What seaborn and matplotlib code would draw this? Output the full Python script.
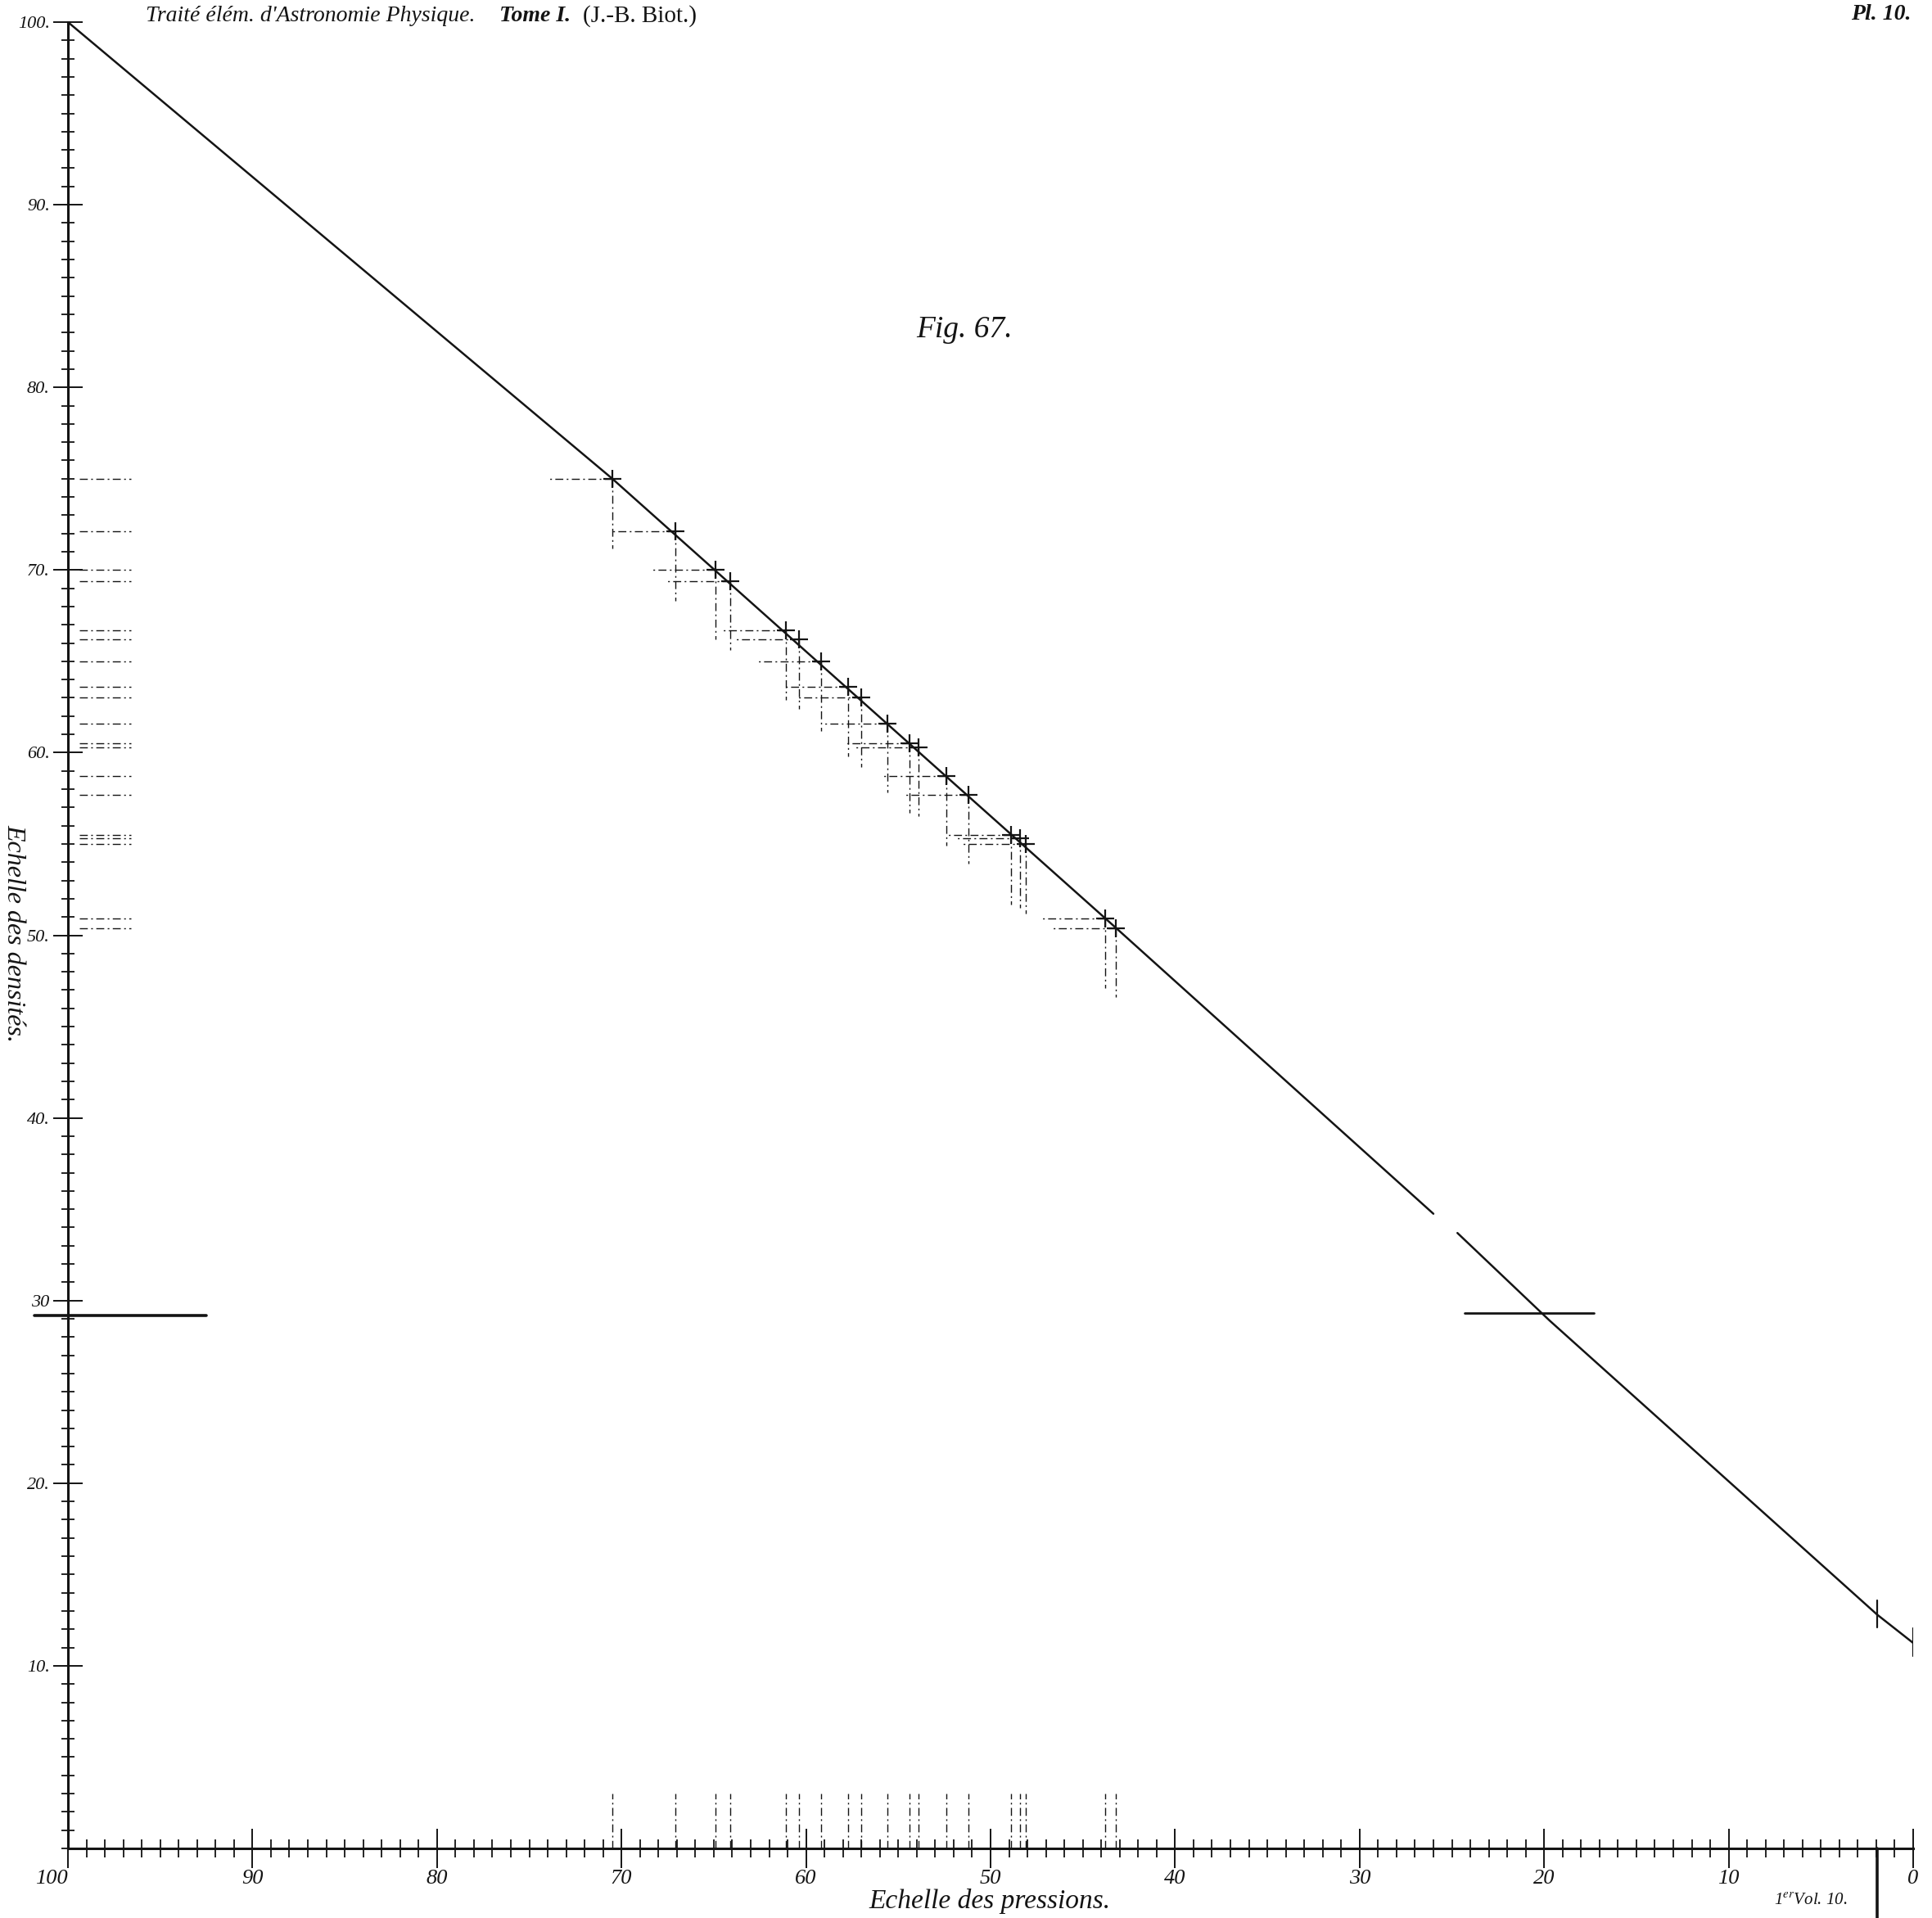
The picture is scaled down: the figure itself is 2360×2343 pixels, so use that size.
import matplotlib
matplotlib.use('Agg')
import matplotlib.pyplot as plt
from matplotlib.ticker import MultipleLocator
import seaborn as sns

pressions = [70.5, 67.1, 64.9, 64.1, 61.1, 60.4, 59.2, 57.7, 57.0, 55.6,
             54.4, 53.9, 52.4, 51.2, 48.9, 48.4, 48.1, 43.8, 43.2]
densites = [75.0, 72.1, 70.0, 69.4, 66.7, 66.2, 65.0, 63.6, 63.0, 61.6,
            60.5, 60.3, 58.7, 57.7, 55.5, 55.3, 55.0, 50.9, 50.4]

# la droite, interrompue vers 25
ligne_haut_p = [100, 70.5, 43.2, 26.0]
ligne_haut_d = [100, 75.0, 50.4, 34.75]
ligne_bas_p = [24.7, 19.7, 1.95, 0]
ligne_bas_d = [33.7, 28.9, 12.8, 11.25]

# repere vers 30 et les deux points a droite
repere_d = 29.2
repere_p = 19.7
fin_p = [1.95, 0]
fin_d = [12.8, 11.25]

y_ticks = [10, 20, 30, 40, 50, 60, 70, 80, 90, 100]
y_labels = ['10.', '20.', '30', '40.', '50.', '60.', '70.', '80.', '90.', '100.']
x_ticks = [100, 90, 80, 70, 60, 50, 40, 30, 20, 10, 0]
x_labels = ['100', '90', '80', '70', '60', '50', '40', '30', '20', '10', '0']

sns.set_style('white')
plt.rcParams['font.family'] = ['Liberation Serif', 'DejaVu Serif']
plt.rcParams['mathtext.fontset'] = 'stix'
ink = '#141414'

W, H = 2360, 2343
fig = plt.figure(figsize=(W / 100, H / 100), dpi=100)
ax = fig.add_axes([83 / W, 1 - 2258 / H, (2337 - 83) / W, (2258 - 27) / H])

# guides pointilles pres des points et pres des axes
guide = dict(color=ink, lw=1.0, ls=(0, (7, 3, 1.5, 3)))
for p, d in zip(pressions, densites):
    ax.plot([p, p + 3.5], [d, d], **guide)
    ax.plot([p, p], [d, d - 3.8], **guide)
    ax.plot([99.4, 96.6], [d, d], **guide)
    ax.plot([p, p], [0, 3.0], **guide)

sns.lineplot(x=ligne_haut_p, y=ligne_haut_d, sort=False, estimator=None,
             color=ink, lw=1.8, ax=ax)
sns.lineplot(x=ligne_bas_p, y=ligne_bas_d, sort=False, estimator=None,
             color=ink, lw=1.8, ax=ax)
sns.scatterplot(x=pressions, y=densites, marker='+', s=260, linewidth=1.6,
                color=ink, ax=ax, zorder=5)

# traits epais du repere
ax.plot([101.8, 92.5], [repere_d, repere_d], color=ink, lw=2.6, clip_on=False)
ax.plot([repere_p + 4.6, repere_p - 2.4], [repere_d + 0.1, repere_d + 0.1], color=ink, lw=2.0)
for p, d in zip(fin_p, fin_d):
    ax.plot([p, p], [d - 0.7, d + 0.8], color=ink, lw=1.6)
ax.plot([fin_p[0], fin_p[0]], [0, -4.6], color=ink, lw=2.6, clip_on=False)

ax.set_xlim(100, 0)
ax.set_ylim(0, 100)
ax.set_xticks(x_ticks)
ax.set_xticklabels(x_labels, fontsize=19, style='italic')
ax.set_yticks(y_ticks)
ax.set_yticklabels(y_labels, fontsize=16, style='italic')
ax.xaxis.set_minor_locator(MultipleLocator(1))
ax.yaxis.set_minor_locator(MultipleLocator(1))
ax.tick_params(which='both', bottom=True, left=True, top=False, right=False)
ax.tick_params(which='major', direction='inout', length=26, width=1.4, color=ink, labelcolor=ink)
ax.tick_params(which='minor', direction='inout', length=11, width=1.3, color=ink)
ax.tick_params(axis='x', which='major', length=34, pad=2)
ax.tick_params(axis='x', which='minor', length=16)
ax.tick_params(axis='y', which='major', pad=3)
ax.xaxis.get_majorticklabels()[0].set_ha('right')
for s in ['top', 'right']:
    ax.spines[s].set_visible(False)
for s in ['left', 'bottom']:
    ax.spines[s].set_linewidth(2.2)
    ax.spines[s].set_color(ink)
ax.set_xlabel('')
ax.set_ylabel('')

def fx(x):
    return x / W

def fy(y):
    return 1 - y / H

fig.text(fx(178), fy(20), "Traité élém. d'Astronomie Physique.", fontsize=20,
         style='italic', va='center', color=ink)
fig.text(fx(610), fy(20), 'Tome I.', fontsize=20, style='italic', weight='bold',
         va='center', color=ink)
fig.text(fx(712), fy(20), '(J.-B. Biot.)', fontsize=21, va='center', color=ink)
fig.text(fx(2335), fy(18), 'Pl. 10.', fontsize=20, style='italic', weight='bold',
         ha='right', va='center', color=ink)
fig.text(fx(1178), fy(403), 'Fig. 67.', fontsize=27, style='italic',
         ha='center', va='center', color=ink)
fig.text(fx(1061), fy(2322), 'Echelle des pressions.', fontsize=24, style='italic',
         va='center', color=ink)
fig.text(fx(17), fy(1140), 'Echelle des densités.', fontsize=23, style='italic',
         rotation=270, ha='center', va='center', color=ink)
fig.text(fx(2167), fy(2322), '1$^{er}$Vol. 10.', fontsize=15, style='italic',
         va='center', color=ink)

fig.savefig('out.png', dpi=100, facecolor='white')
